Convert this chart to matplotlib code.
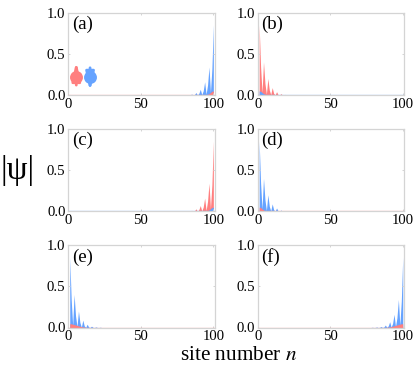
import matplotlib
matplotlib.use("Agg")
import matplotlib.pyplot as plt
import numpy as np

plt.rcParams['font.family'] = ['Liberation Serif', 'DejaVu Serif']
plt.rcParams['mathtext.fontset'] = 'stix'

# amplitudes moving away from the edge site (peaks come every third site)
strong_right = [0.85, 0.32, 0.03, 0.34, 0.12, 0.01, 0.16, 0.05, 0.005, 0.07, 0.02, 0.002,
                0.03, 0.006, 0.001, 0.012, 0.002, 0.0, 0.006, 0.001, 0.0, 0.003]
strong_left = [0.85, 0.34, 0.03, 0.40, 0.14, 0.01, 0.20, 0.06, 0.005, 0.09, 0.02, 0.002,
               0.04, 0.006, 0.001, 0.016, 0.002, 0.0, 0.007, 0.001, 0.0, 0.003]
weak_short = [0.05, 0.045, 0.03, 0.015, 0.008, 0.004, 0.002]
weak_long = [0.045, 0.045, 0.04, 0.035, 0.03, 0.025, 0.02, 0.015, 0.01, 0.006, 0.003, 0.002]
sites = np.arange(1, 101)

labels = ['(a)', '(b)', '(c)', '(d)', '(e)', '(f)']
edges = ['right', 'left', 'right', 'left', 'left', 'right']
strong_color = ['blue', 'red', 'red', 'blue', 'blue', 'blue']
x_ticks = [0, 50, 100]
y_ticks = [0.0, 0.5, 1.0]

RED = '#ff7f7f'
BLUE = '#66a3ff'
FRAME = '#d4d4d4'

# left, top of the panels in pixels
lefts = [68.3, 257.7]
tops = [12.5, 128.8, 245]
W, H = 415.0, 368.0
ax_w, ax_h = 146.5, 82.5


# Coloca os valores da borda no vetor completo de sitios
def perfil(valores, borda):
    y = np.zeros(len(sites))
    if borda == 'left':
        y[:len(valores)] = valores
    else:
        y[-len(valores):] = valores[::-1]
    return y


fig = plt.figure(figsize=(W / 100, H / 100), dpi=100)

for i, lab in enumerate(labels):
    l = lefts[i % 2]
    t = tops[i // 2]
    ax = fig.add_axes([l / W, 1 - (t + ax_h) / H, ax_w / W, ax_h / H])
    strong = perfil(strong_left if edges[i] == 'left' else strong_right, edges[i])
    weak = perfil(weak_long if i >= 4 else weak_short, edges[i])
    if strong_color[i] == 'blue':
        c_s, c_w = BLUE, RED
    else:
        c_s, c_w = RED, BLUE
    ax.fill_between(sites, 0, strong, color=c_s, lw=0)
    ax.fill_between(sites, 0, weak, color=c_w, lw=0)
    ax.axhline(0, color=c_w, lw=1.0, alpha=0.5, zorder=3)
    ax.set_xlim(0, 101)
    ax.set_ylim(0, 1)
    ax.set_xticks(x_ticks)
    ax.set_yticks(y_ticks)
    ax.set_yticklabels(['%.1f' % v for v in y_ticks])
    ax.tick_params(labelsize=10.6, length=1.5, width=0.7, color=FRAME, direction='in',
                   top=True, right=True, pad=2)
    for s in ax.spines.values():
        s.set_color(FRAME)
        s.set_linewidth(0.9)
    ax.text(0.025, 0.855, lab, transform=ax.transAxes, fontsize=13.5, ha='left', va='center')
    if i == 0:
        # simbolos de spin do painel (a)
        ax.annotate('', xy=(5.5, 0.41), xytext=(5.5, 0.12),
                    arrowprops=dict(arrowstyle='-|>,head_length=1.1,head_width=0.25', mutation_scale=10,
                                    color=RED, lw=2, shrinkA=0, shrinkB=0))
        ax.annotate('', xy=(15, 0.04), xytext=(15, 0.33),
                    arrowprops=dict(arrowstyle='-|>,head_length=1.1,head_width=0.25', mutation_scale=10,
                                    color=BLUE, lw=2, shrinkA=0, shrinkB=0))
        ax.plot([5.5], [0.22], 'o', color=RED, ms=9.3, mew=0)
        ax.plot([15], [0.22], 'o', color=BLUE, ms=9.3, mew=0)

fig.text(18 / W, 1 - 171 / H, '|ψ|', fontsize=24, ha='center', va='center')
fig.text(239 / W, 1 - 355.5 / H, 'site number $n$', fontsize=15.3, ha='center', va='center')

fig.savefig('out.png', dpi=100)
